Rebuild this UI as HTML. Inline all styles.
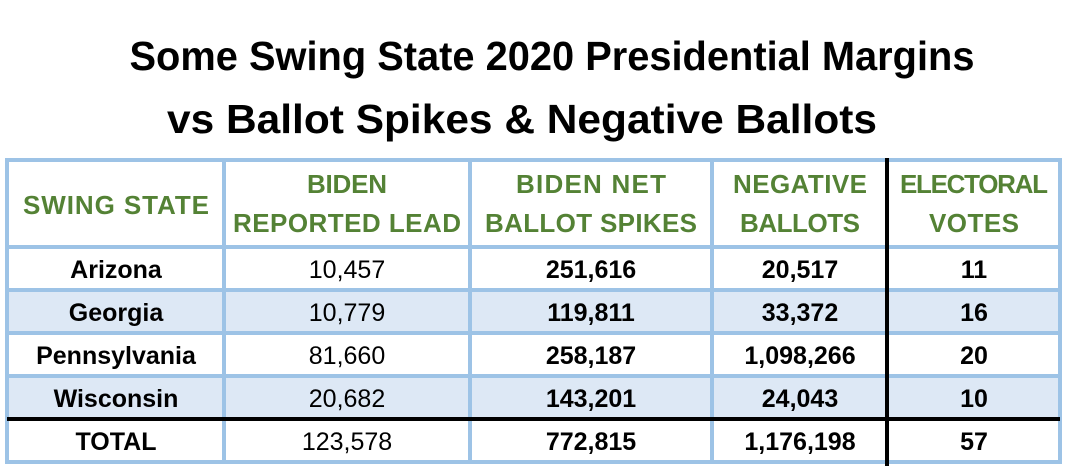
<!DOCTYPE html>
<html><head><style>body{margin:0;background:#fff}svg{display:block}</style></head><body>
<svg width="1070" height="470" xmlns="http://www.w3.org/2000/svg" font-family="Liberation Sans, Arial, sans-serif">
<rect width="1070" height="470" fill="#fff"/>
<g font-weight="bold" font-size="41" text-anchor="middle" fill="#000">
<text x="552" y="70" textLength="845" lengthAdjust="spacingAndGlyphs">Some Swing State 2020 Presidential Margins</text>
<text x="522" y="133" textLength="710" lengthAdjust="spacingAndGlyphs">vs Ballot Spikes &amp; Negative Ballots</text>
</g>
<rect x="7" y="290" width="1053" height="43" fill="#dde8f5"/>
<rect x="7" y="376" width="1053" height="43" fill="#dde8f5"/>
<g stroke="#9dc3e6" stroke-width="4" fill="none">
<rect x="7" y="160" width="1053" height="302"/>
<line x1="7" y1="247" x2="1060" y2="247"/>
<line x1="7" y1="290" x2="1060" y2="290"/>
<line x1="7" y1="333" x2="1060" y2="333"/>
<line x1="7" y1="376" x2="1060" y2="376"/>
<line x1="224" y1="160" x2="224" y2="462"/>
<line x1="470" y1="160" x2="470" y2="462"/>
<line x1="712" y1="160" x2="712" y2="462"/>
</g>
<g stroke="#000" stroke-width="4">
<line x1="7" y1="419" x2="1060" y2="419"/>
<line x1="887" y1="158" x2="887" y2="466"/>
</g>
<g font-weight="bold" font-size="26" text-anchor="middle" fill="#548235" lengthAdjust="spacingAndGlyphs">
<text x="116" y="214" textLength="186">SWING STATE</text>
<text x="347" y="193" textLength="80">BIDEN</text>
<text x="347" y="232" textLength="228">REPORTED LEAD</text>
<text x="591" y="193" textLength="150">BIDEN NET</text>
<text x="591" y="232" textLength="212">BALLOT SPIKES</text>
<text x="800" y="193" textLength="134">NEGATIVE</text>
<text x="800" y="232" textLength="120">BALLOTS</text>
<text x="974" y="193" textLength="148">ELECTORAL</text>
<text x="974" y="232" textLength="90">VOTES</text>
</g>
<g font-size="25" text-anchor="middle" fill="#000">
<g font-weight="bold">
<text x="116" y="278">Arizona</text>
<text x="116" y="321">Georgia</text>
<text x="116" y="364">Pennsylvania</text>
<text x="116" y="407">Wisconsin</text>
<text x="116" y="450">TOTAL</text>
</g>
<text x="347" y="278">10,457</text>
<text x="347" y="321">10,779</text>
<text x="347" y="364">81,660</text>
<text x="347" y="407">20,682</text>
<text x="347" y="450">123,578</text>
<g font-weight="bold">
<text x="591" y="278">251,616</text>
<text x="591" y="321">119,811</text>
<text x="591" y="364">258,187</text>
<text x="591" y="407">143,201</text>
<text x="591" y="450">772,815</text>
<text x="800" y="278">20,517</text>
<text x="800" y="321">33,372</text>
<text x="800" y="364">1,098,266</text>
<text x="800" y="407">24,043</text>
<text x="800" y="450">1,176,198</text>
<text x="974" y="278">11</text>
<text x="974" y="321">16</text>
<text x="974" y="364">20</text>
<text x="974" y="407">10</text>
<text x="974" y="450">57</text>
</g>
</g>
</svg>
</body></html>
